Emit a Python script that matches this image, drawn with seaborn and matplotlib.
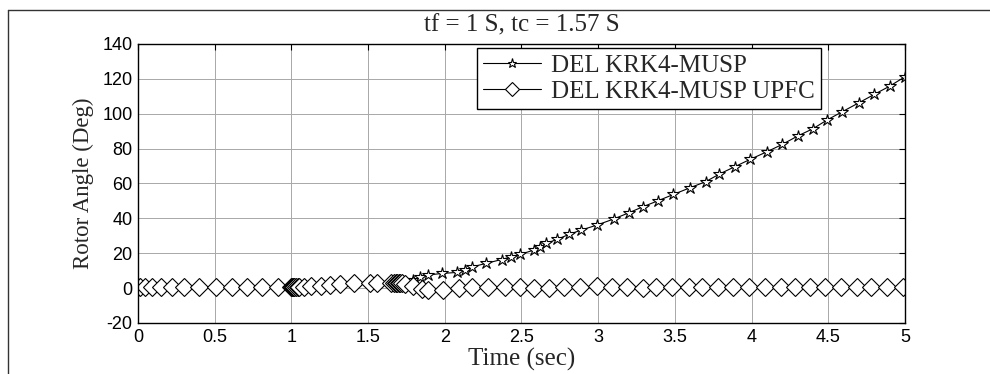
import matplotlib
matplotlib.use("Agg")
import matplotlib.pyplot as plt
from matplotlib.lines import Line2D
import seaborn as sns

# time points (adaptive steps) and rotor angle
t_common = [0, 0.013, 0.046, 0.09, 0.15, 0.22, 0.30, 0.40, 0.51, 0.61, 0.71, 0.81, 0.91,
            1.0, 1.005, 1.01, 1.015, 1.02, 1.03, 1.04, 1.05, 1.08, 1.13, 1.19, 1.25, 1.32,
            1.41, 1.51, 1.56, 1.65, 1.67, 1.68, 1.69, 1.70, 1.71, 1.72, 1.74]
d_common = [0.5, 0.5, 0.5, 0.5, 0.5, 0.5, 0.5, 0.5, 0.5, 0.5, 0.5, 0.5, 0.5,
            0.5, 0.5, 0.5, 0.5, 0.5, 0.5, 0.6, 0.6, 0.8, 1.0, 1.4, 1.8, 2.5,
            2.7, 3.0, 3.2, 2.8, 2.8, 2.8, 2.8, 2.8, 2.7, 2.7, 2.6]

t_musp_tail = [1.79, 1.84, 1.89, 1.98, 2.08, 2.13, 2.18, 2.27, 2.37, 2.43, 2.49, 2.58,
               2.62, 2.66, 2.73, 2.81, 2.89, 2.99, 3.10, 3.20, 3.29, 3.39, 3.49, 3.60,
               3.70, 3.79, 3.89, 3.99, 4.10, 4.20, 4.30, 4.40, 4.49, 4.59, 4.70, 4.80,
               4.90, 5.00]
d_musp_tail = [4.6, 6.1, 7.5, 8.4, 9.0, 10.3, 12.2, 14.2, 16.4, 17.9, 19.3, 21.8,
               23.3, 25.6, 27.9, 30.8, 33.3, 36.1, 39.6, 43.2, 46.6, 50.1, 53.7, 57.6,
               61.0, 65.4, 69.6, 73.8, 78.2, 82.4, 87.2, 91.4, 96.3, 101.1, 106.3, 111.1,
               115.8, 121.2]

t_upfc_tail = [1.79, 1.85, 1.89, 1.99, 2.09, 2.18, 2.28, 2.39, 2.49, 2.58, 2.68, 2.78,
               2.88, 2.99, 3.09, 3.19, 3.29, 3.38, 3.48, 3.59, 3.68, 3.78, 3.88, 3.98,
               4.09, 4.19, 4.28, 4.38, 4.48, 4.58, 4.69, 4.78, 4.88, 4.99]
d_upfc_tail = [1.0, -0.7, -1.0, -0.8, 0.0, 0.8, 0.8, 0.6, 0.4, 0.3, 0.3, 0.5,
               0.8, 1.0, 0.8, 0.5, 0.3, 0.4, 0.7, 0.9, 0.8, 0.5, 0.4, 0.6,
               0.9, 0.8, 0.6, 0.5, 0.6, 0.8, 0.7, 0.5, 0.4, 0.5]

t_musp = t_common + t_musp_tail
d_musp = d_common + d_musp_tail
t_upfc = t_common + t_upfc_tail
d_upfc = d_common + d_upfc_tail

sns.set_style("white")
plt.rcParams['font.family'] = ['Liberation Sans', 'DejaVu Sans']
plt.rcParams['axes.unicode_minus'] = False
serif = ['Liberation Serif', 'DejaVu Serif']

fig = plt.figure(figsize=(9.9, 3.74), dpi=100)
ax = fig.add_axes([0.1394, 0.1364, 0.7747, 0.7460])

sns.lineplot(x=t_musp, y=d_musp, ax=ax, color='k', lw=0.8, marker='*', ms=9,
             mfc='white', mec='k', mew=0.8, estimator=None, sort=False,
             label='DEL KRK4-MUSP')
sns.lineplot(x=t_upfc, y=d_upfc, ax=ax, color='k', lw=0.8, marker='D', ms=9,
             mfc='white', mec='k', mew=0.8, estimator=None, sort=False,
             label='DEL KRK4-MUSP UPFC')

ax.set_xlim(0, 5)
ax.set_ylim(-20, 140)
ax.set_xticks([0, 0.5, 1, 1.5, 2, 2.5, 3, 3.5, 4, 4.5, 5])
ax.set_xticklabels(['0', '0.5', '1', '1.5', '2', '2.5', '3', '3.5', '4', '4.5', '5'])
ax.set_yticks(range(-20, 141, 20))
ax.grid(True, color='#a8a8a8', lw=0.7)
ax.tick_params(direction='in', length=4, width=0.8, top=True, right=True,
               labelsize=13, colors='k', pad=4)
for s in ax.spines.values():
    s.set_color('k')
    s.set_linewidth(1.0)

ax.set_title('tf = 1 S, tc = 1.57 S', family=serif, fontsize=18, pad=9)
ax.set_xlabel('Time (sec)', family=serif, fontsize=18, labelpad=2)
ax.set_ylabel('Rotor Angle (Deg)', family=serif, fontsize=16.5, labelpad=6)

leg = ax.legend(loc='upper left', bbox_to_anchor=(0.4818, 0.8717),
                bbox_transform=fig.transFigure, borderaxespad=0, fancybox=False,
                framealpha=1, edgecolor='k', prop={'family': serif, 'size': 18},
                handlelength=2.3, borderpad=0.25, labelspacing=0.15, handletextpad=0.4,
                numpoints=1, markerscale=0.75)
leg.get_frame().set_linewidth(1.0)

# outer frame lines (top and left only)
fig.add_artist(Line2D([8 / 990, 1], [1 - 10 / 374, 1 - 10 / 374], color='#333333', lw=1.0))
fig.add_artist(Line2D([8 / 990, 8 / 990], [0, 1 - 10 / 374], color='#333333', lw=1.0))

fig.savefig('out.png', dpi=100)
